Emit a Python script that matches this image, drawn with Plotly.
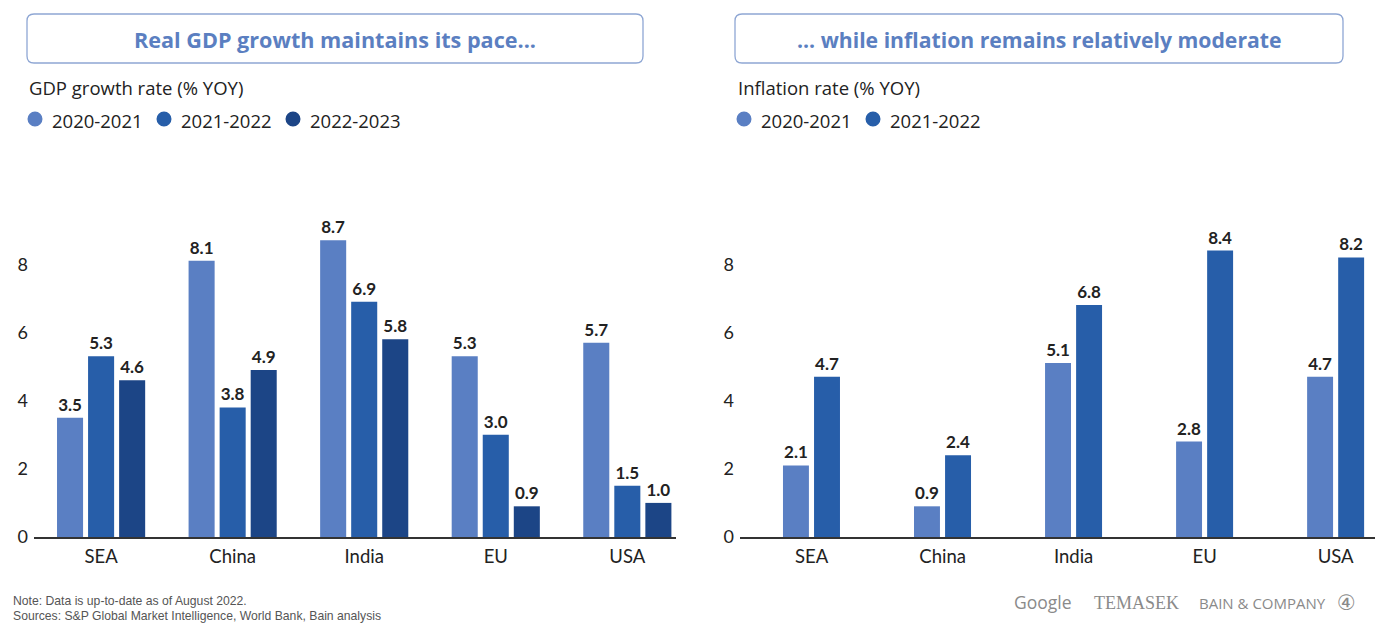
import plotly.graph_objects as go

W, H = 1375, 632

regions = ["SEA", "China", "India", "EU", "USA"]

gdp_series = ["2020-2021", "2021-2022", "2022-2023"]
gdp_2020_2021 = [3.5, 8.1, 8.7, 5.3, 5.7]
gdp_2021_2022 = [5.3, 3.8, 6.9, 3.0, 1.5]
gdp_2022_2023 = [4.6, 4.9, 5.8, 0.9, 1.0]

infl_series = ["2020-2021", "2021-2022"]
infl_2020_2021 = [2.1, 0.9, 5.1, 2.8, 4.7]
infl_2021_2022 = [4.7, 2.4, 6.8, 8.4, 8.2]

y_ticks = [0, 2, 4, 6, 8]

left_title = "Real GDP growth maintains its pace..."
right_title = "... while inflation remains relatively moderate"
left_subtitle = "GDP growth rate (% YOY)"
right_subtitle = "Inflation rate (% YOY)"
note_lines = ["Note: Data is up-to-date as of August 2022.",
              "Sources: S&P Global Market Intelligence, World Bank, Bain analysis"]

colors = ["#5a7fc3", "#275ea9", "#1c4586"]
NUM_FONT = "Lato, Noto Sans, sans-serif"
TXT_FONT = "Open Sans, Noto Sans, sans-serif"


def px(x):
    return x / W


def py(y):
    return 1 - y / H


fig = go.Figure()

bw = 0.198
left_offsets = [-0.335, -0.099, 0.137]
right_offsets = [-0.218, 0.019]
label_font = dict(family=NUM_FONT, size=17, color="#222222", weight="bold")

for vals, name, c, off in zip([gdp_2020_2021, gdp_2021_2022, gdp_2022_2023],
                              gdp_series, colors, left_offsets):
    fig.add_trace(go.Bar(x=regions, y=vals, name=name, marker_color=c,
                         marker_line_width=0, width=bw, offset=off,
                         text=[f"{v:.1f}" for v in vals], textposition="outside",
                         textfont=label_font, cliponaxis=False, showlegend=False,
                         xaxis="x", yaxis="y"))

for vals, name, c, off in zip([infl_2020_2021, infl_2021_2022],
                              infl_series, colors[:2], right_offsets):
    fig.add_trace(go.Bar(x=regions, y=vals, name=name, marker_color=c,
                         marker_line_width=0, width=bw, offset=off,
                         text=[f"{v:.1f}" for v in vals], textposition="outside",
                         textfont=label_font, cliponaxis=False, showlegend=False,
                         xaxis="x2", yaxis="y2"))

ydom = [py(537), py(196)]
axis_common = dict(showgrid=False, zeroline=False, showline=True, linecolor="#333333",
                   linewidth=1.5, ticks="", ticklabelstandoff=2, automargin=False,
                   tickfont=dict(family=NUM_FONT, size=18.5, color="#222222"),
                   fixedrange=True)
yaxis_common = dict(range=[0, 10], tickvals=y_ticks, showgrid=False, zeroline=False,
                    showline=False, ticks="", ticklabelstandoff=5, automargin=False,
                    tickfont=dict(family=NUM_FONT, size=18, color="#222222"),
                    domain=ydom, fixedrange=True)

fig.update_layout(
    width=W, height=H,
    margin=dict(l=0, r=0, t=0, b=0, pad=0, autoexpand=False),
    paper_bgcolor="white", plot_bgcolor="white",
    barmode="group",
    xaxis=dict(domain=[px(34), px(676)], range=[-0.51, 4.37], anchor="y", **axis_common),
    yaxis=dict(anchor="x", **yaxis_common),
    xaxis2=dict(domain=[px(740), 1.0], range=[-0.546, 4.30], anchor="y2", **axis_common),
    yaxis2=dict(anchor="x2", **yaxis_common),
    showlegend=False,
)

shapes = []
annotations = []


def rounded_rect(x0, y0, x1, y1, r):
    X0, X1 = px(x0), px(x1)
    Y0, Y1 = py(y0), py(y1)
    rx, ry = r / W, r / H
    return (f"M {X0 + rx},{Y0} L {X1 - rx},{Y0} Q {X1},{Y0} {X1},{Y0 - ry} "
            f"L {X1},{Y1 + ry} Q {X1},{Y1} {X1 - rx},{Y1} "
            f"L {X0 + rx},{Y1} Q {X0},{Y1} {X0},{Y1 + ry} "
            f"L {X0},{Y0 - ry} Q {X0},{Y0} {X0 + rx},{Y0} Z")


for (x0, x1), title, fs in [((27, 643), left_title, 21.6), ((735, 1343), right_title, 21.2)]:
    shapes.append(dict(type="path", xref="paper", yref="paper",
                       path=rounded_rect(x0, 14, x1, 63, 7),
                       line=dict(color="#8fa7d4", width=1.3), fillcolor="rgba(0,0,0,0)",
                       layer="above"))
    annotations.append(dict(xref="paper", yref="paper", x=px((x0 + x1) / 2), y=py(39),
                            text=f"<b>{title}</b>", showarrow=False,
                            font=dict(family=TXT_FONT, size=fs, color="#5b7fc1"),
                            xanchor="center", yanchor="middle"))

for x, t in [(27, left_subtitle), (736, right_subtitle)]:
    annotations.append(dict(xref="paper", yref="paper", x=px(x), y=py(87), text=t,
                            showarrow=False, font=dict(family=TXT_FONT, size=18.5, color="#222222"),
                            xanchor="left", yanchor="middle"))


def legend(x_positions, names, cols):
    for x, n, c in zip(x_positions, names, cols):
        r = 7.5
        shapes.append(dict(type="circle", xref="paper", yref="paper",
                           x0=px(x - r), x1=px(x + r), y0=py(119 + r), y1=py(119 - r),
                           fillcolor=c, line=dict(width=0)))
        annotations.append(dict(xref="paper", yref="paper", x=px(x + 15), y=py(120), text=n,
                                showarrow=False, font=dict(family=TXT_FONT, size=18.5, color="#222222"),
                                xanchor="left", yanchor="middle"))


legend([35, 164, 293], gdp_series, colors)
legend([744, 873], infl_series, colors[:2])

for i, line in enumerate(note_lines):
    annotations.append(dict(xref="paper", yref="paper", x=px(11), y=py(601 + 15 * i), text=line,
                            showarrow=False,
                            font=dict(family="Liberation Sans Narrow, Liberation Sans, sans-serif",
                                      size=12.2, color="#555555"),
                            xanchor="left", yanchor="middle"))

annotations.append(dict(xref="paper", yref="paper", x=px(1012), y=py(602), text="Google",
                        showarrow=False, font=dict(family="Open Sans, sans-serif", size=17.5, color="#8a8a8a"),
                        xanchor="left", yanchor="middle"))
annotations.append(dict(xref="paper", yref="paper", x=px(1092), y=py(603), text="TEMASEK",
                        showarrow=False, font=dict(family="Liberation Serif, DejaVu Serif, serif", size=18, color="#8a8a8a"),
                        xanchor="left", yanchor="middle"))
annotations.append(dict(xref="paper", yref="paper", x=px(1197), y=py(603), text="BAIN &amp; COMPANY",
                        showarrow=False, font=dict(family="Open Sans, sans-serif", size=15, color="#8a8a8a"),
                        xanchor="left", yanchor="middle"))
annotations.append(dict(xref="paper", yref="paper", x=px(1346), y=py(603), text="④",
                        showarrow=False, font=dict(family="DejaVu Sans, sans-serif", size=21, color="#8a8a8a"),
                        xanchor="center", yanchor="middle"))

fig.update_layout(shapes=shapes, annotations=annotations)

fig.write_html("out.html", config={"displayModeBar": False})

with open("out.html", "r", encoding="utf-8") as f:
    html = f.read()
html = html.replace("<head>", "<head><style>html,body{margin:0;padding:0;overflow:hidden;}</style>", 1)
with open("out.html", "w", encoding="utf-8") as f:
    f.write(html)
